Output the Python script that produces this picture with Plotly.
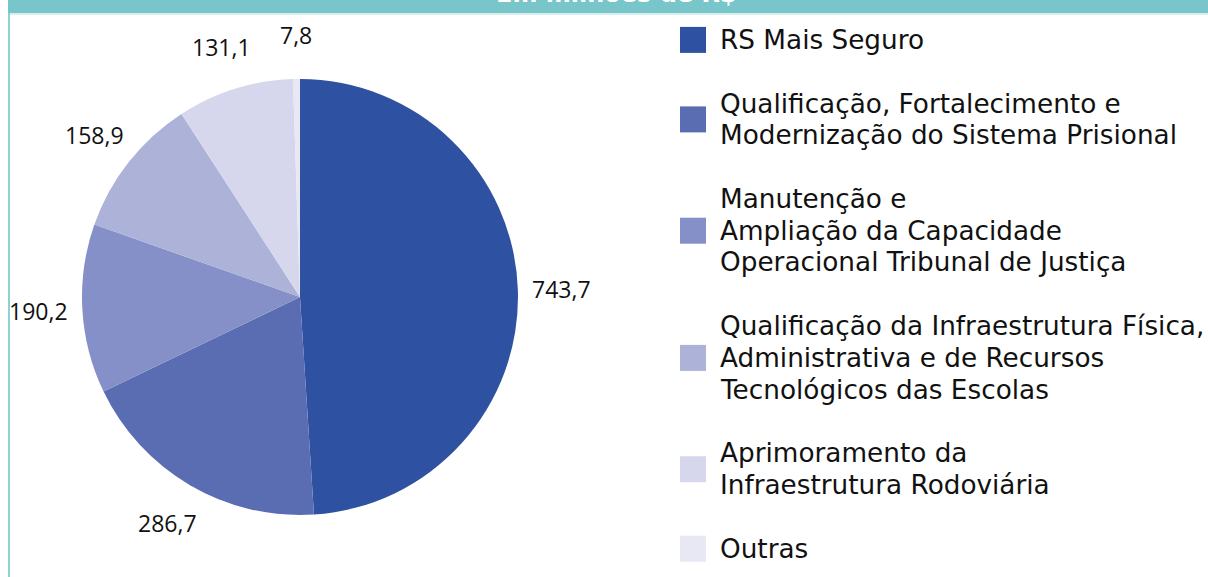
import math
import plotly.graph_objects as go

# ---- data ----
labels = [
    "RS Mais Seguro",
    "Qualificação, Fortalecimento e<br>Modernização do Sistema Prisional",
    "Manutenção e<br>Ampliação da Capacidade<br>Operacional Tribunal de Justiça",
    "Qualificação da Infraestrutura Física,<br>Administrativa e de Recursos<br>Tecnológicos das Escolas",
    "Aprimoramento da<br>Infraestrutura Rodoviária",
    "Outras",
]
values = [743.7, 286.7, 190.2, 158.9, 131.1, 7.8]
value_text = ["743,7", "286,7", "190,2", "158,9", "131,1", "7,8"]
colors = ["#2E52A1", "#5A6DB2", "#8490C7", "#ADB2D9", "#D6D7EC", "#E8E8F5"]
title_text = "Em milhões de R$"

# ---- layout constants (pixels) ----
W, H = 1208, 577
CX, CY, R = 300, 297, 218
LABEL_R = 262
TEAL = "#78C6C9"
TEAL_LIGHT = "#8FD0D2"
LEG_FONT = "DejaVu Sans"

def px(x):
    return x / W

def py(y):
    return 1 - y / H

fig = go.Figure()
fig.add_trace(go.Pie(
    labels=[l.replace("<br>", " ") for l in labels],
    values=values,
    marker=dict(colors=colors, line=dict(width=0)),
    sort=False,
    direction="clockwise",
    rotation=0,
    textinfo="none",
    hoverinfo="label+value",
    showlegend=False,
    domain=dict(x=[px(CX - R), px(CX + R)], y=[py(CY + R), py(CY - R)]),
))

annotations = []
# value labels outside the pie, placed along each slice's mid-angle
total = sum(values)
cum = 0.0
for v, t in zip(values, value_text):
    mid = (cum + v / 2) / total * 2 * math.pi
    cum += v
    x = CX + LABEL_R * math.sin(mid)
    y = CY - LABEL_R * math.cos(mid)
    annotations.append(dict(
        x=px(x), y=py(y), xref="paper", yref="paper", text=t, showarrow=False,
        xanchor="center", yanchor="middle",
        font=dict(family="Open Sans", size=23, color="#111111"),
    ))

# legend (manual, to match the large swatches and spacing)
LINE = 31.8
top = 24
shapes = []
for lab, col in zip(labels, colors):
    lines = lab.split("<br>")
    n = len(lines)
    cyi = top + n * LINE / 2
    shapes.append(dict(type="rect", xref="paper", yref="paper",
                       x0=px(680), x1=px(706), y0=py(cyi + 13), y1=py(cyi - 13),
                       fillcolor=col, line=dict(width=0)))
    for k, ln in enumerate(lines):
        annotations.append(dict(
            x=px(718), y=py(top + LINE * (k + 0.5)), xref="paper", yref="paper",
            text=ln, showarrow=False, xanchor="left", yanchor="middle", align="left",
            font=dict(family=LEG_FONT, size=26.3, color="#111111"),
        ))
    top += n * LINE + LINE

# title band and frame
shapes.append(dict(type="rect", xref="paper", yref="paper", x0=px(8), x1=1,
                   y0=py(13), y1=1, fillcolor=TEAL, line=dict(width=0), layer="below"))
shapes.append(dict(type="line", xref="paper", yref="paper", x0=px(8), x1=1,
                   y0=py(14), y1=py(14), line=dict(color="#C8E9EA", width=1.5)))
shapes.append(dict(type="line", xref="paper", yref="paper", x0=px(9), x1=px(9),
                   y0=0, y1=py(13), line=dict(color=TEAL_LIGHT, width=2)))
annotations.append(dict(
    x=px(616), y=py(-6), xref="paper", yref="paper", text=f"<b>{title_text}</b>",
    showarrow=False, xanchor="center", yanchor="middle",
    font=dict(family=LEG_FONT, size=24, color="white"),
))

fig.update_layout(
    width=W, height=H,
    margin=dict(l=0, r=0, t=0, b=0),
    paper_bgcolor="white", plot_bgcolor="white",
    shapes=shapes, annotations=annotations,
)
fig.write_html(
    "out.html",
    config={"displayModeBar": False},
    post_script="document.body.style.margin='0';document.documentElement.style.overflow='hidden';",
)
